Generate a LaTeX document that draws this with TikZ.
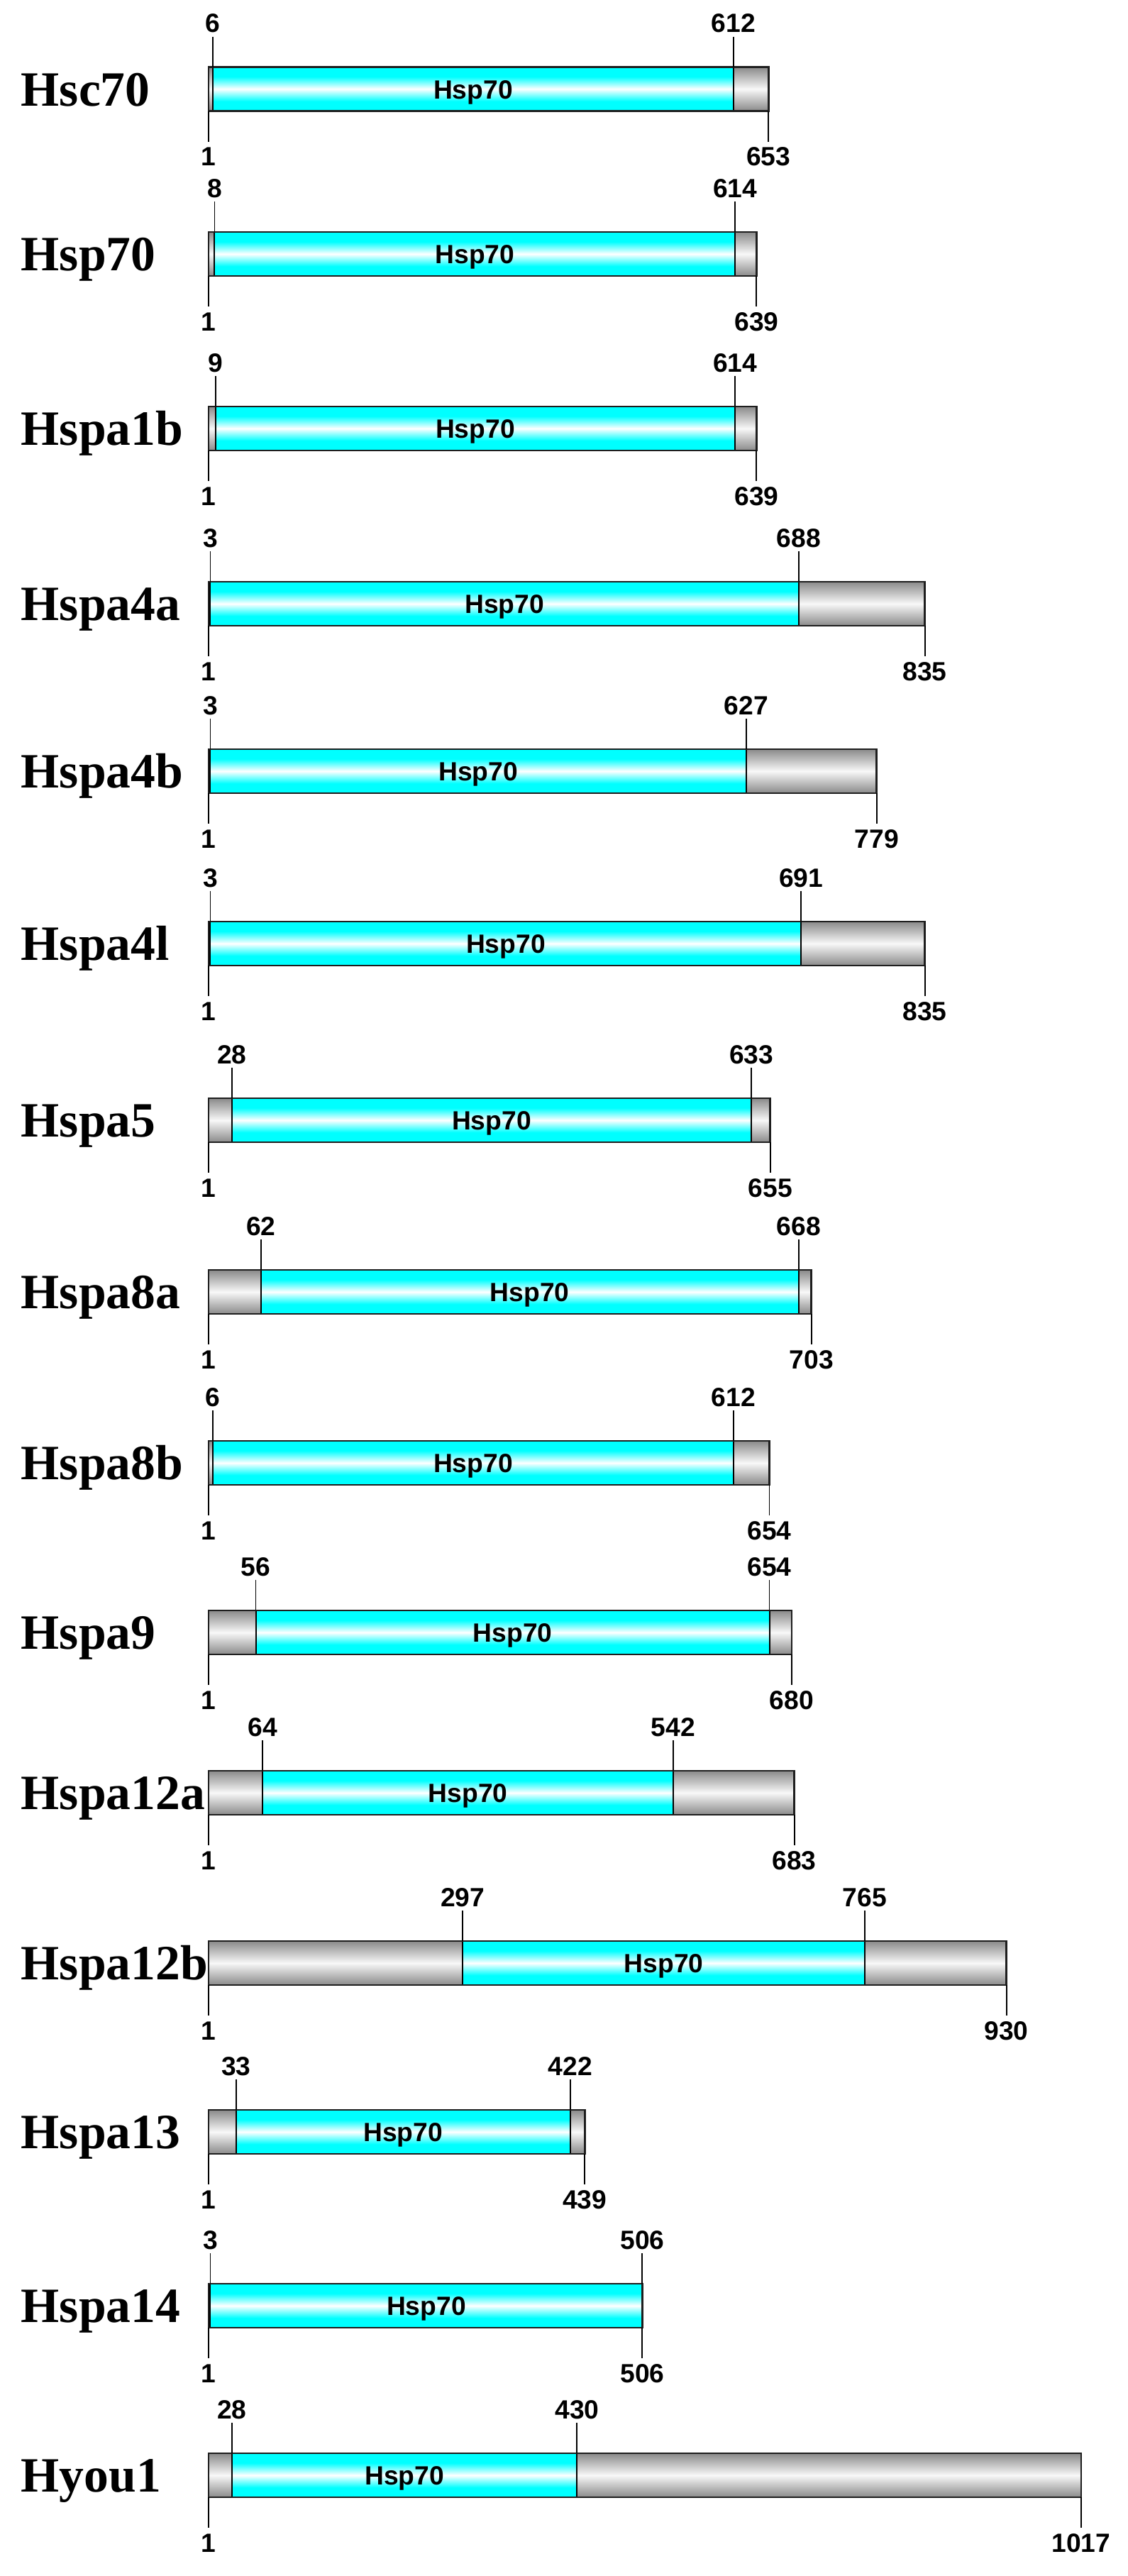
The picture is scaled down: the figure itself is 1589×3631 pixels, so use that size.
\documentclass[tikz,border=0pt]{standalone}
\usepackage{fontspec}
\setmainfont{Liberation Serif}
\newfontfamily\arialf{Liberation Sans}
\definecolor{gEdge}{HTML}{8A8A8A}
\definecolor{gMid}{HTML}{BABABA}
\definecolor{gLight}{HTML}{F8F8F8}
\definecolor{outl}{HTML}{1E1E1E}
\pgfdeclareverticalshading{cyanbar}{100bp}{color(0bp)=(cyan); color(36bp)=(cyan); color(50bp)=(white); color(64bp)=(cyan); color(100bp)=(cyan)}
\pgfdeclareverticalshading{graybar}{100bp}{color(0bp)=(gEdge); color(25bp)=(gEdge); color(36bp)=(gMid); color(50bp)=(gLight); color(64bp)=(gMid); color(75bp)=(gEdge); color(100bp)=(gEdge)}
\begin{document}
\begin{tikzpicture}[x=0.25pt,y=-0.25pt,
  protname/.style={anchor=base west,inner sep=0pt,font=\fontsize{17.4pt}{20pt}\selectfont\bfseries},
  numlab/.style={anchor=base,inner sep=0pt,font=\arialf\bfseries\fontsize{9.3pt}{11pt}\selectfont},
  domlab/.style={anchor=base,inner sep=0pt,font=\arialf\bfseries\fontsize{9.3pt}{11pt}\selectfont},
  tickline/.style={draw=black,line width=0.45pt},
  domline/.style={draw=black,line width=0.5pt},
  barline/.style={draw=outl,line width=0.7pt}]
\useasboundingbox (0,0) rectangle (1589,3631);
% name / bar middle / domain start / domain end / length / drawn position of domain end
\foreach \nm/\M/\a/\b/\L/\bp [count=\i] in {
  Hsc70/125.5/6/612/653/612,
  Hsp70/358/8/614/639/614,
  Hspa1b/604/9/614/639/614,
  Hspa4a/851/3/688/835/688,
  Hspa4b/1087/3/627/779/627,
  Hspa4l/1330/3/691/835/691,
  Hspa5/1579/28/633/655/633,
  Hspa8a/1821/62/668/703/688,
  Hspa8b/2062/6/612/654/612,
  Hspa9/2301/56/654/680/654,
  Hspa12a/2527/64/542/683/542,
  Hspa12b/2767/297/765/930/765,
  Hspa13/3005/33/422/439/422,
  Hspa14/3250/3/506/506/506,
  Hyou1/3489/28/430/1017/430}{
  \pgfmathsetmacro\xo{294}
  \pgfmathsetmacro\xa{294+(\a-1)*1.2106}
  \pgfmathsetmacro\xb{294+(\bp-1)*1.2106}
  \pgfmathsetmacro\xL{294+(\L-1)*1.2106}
  \pgfmathsetmacro\xc{(\xa+\xb)/2}
  \pgfmathsetmacro\yt{\M-31}
  \pgfmathsetmacro\yb{\M+31}
  % protein name
  \node[protname] (name\i) at (29,{\M+23.5}) {\nm};
  % bar
  \shade[shading=graybar] (\xo,\yt) rectangle (\xL,\yb);
  \shade[shading=cyanbar] (\xa,\yt) rectangle (\xb,\yb);
  \draw[domline] (\xa,\yt) rectangle (\xb,\yb);
  \draw[barline] (\xo,\yt) rectangle (\xL,\yb);
  \node[domlab] (dom\i) at (\xc,{\M+13.5}) {Hsp70};
  % tick coordinates
  \coordinate (ta\i) at (\xa,{\M-74});
  \coordinate (tb\i) at (\xb,{\M-74});
  \coordinate (ba\i) at (\xa,\yt);
  \coordinate (bb\i) at (\xb,\yt);
  \coordinate (bo\i) at (\xo,\yb);
  \coordinate (bl\i) at (\xL,\yb);
  \coordinate (to\i) at (\xo,{\M+74});
  \coordinate (tl\i) at (\xL,{\M+74});
  \draw[tickline] (ta\i) -- (ba\i);
  \draw[tickline] (tb\i) -- (bb\i);
  \draw[tickline] (bo\i) -- (to\i);
  \draw[tickline] (bl\i) -- (tl\i);
  % number labels
  \node[numlab] (na\i) at (\xa,{\M-80}) {\a};
  \node[numlab] (nb\i) at (\xb,{\M-80}) {\b};
  \node[numlab] (no\i) at (\xo,{\M+108}) {1};
  \node[numlab] (nl\i) at (\xL,{\M+108}) {\L};
}
\end{tikzpicture}
\end{document}
